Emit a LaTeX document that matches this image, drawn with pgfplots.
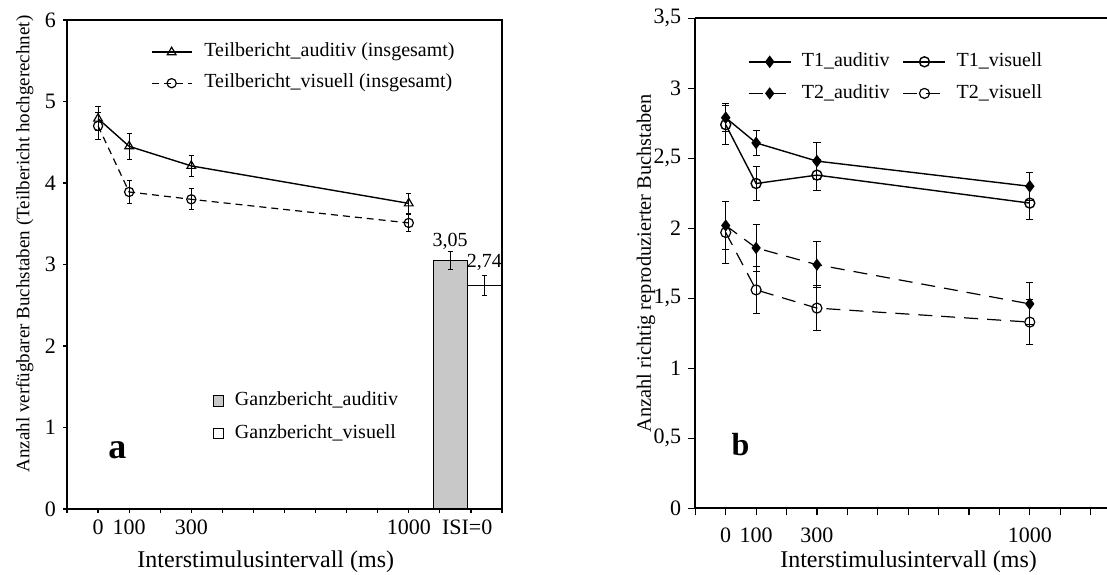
\documentclass[border=0pt]{standalone}
\usepackage{fontspec}
\setmainfont{Liberation Serif}
\usepackage{pgfplots}
\pgfplotsset{compat=1.18}
\definecolor{barGray}{RGB}{200,200,200}
\pgfplotsset{
  errstyle/.style={error bars/.cd, y dir=both, y explicit,
    error bar style={solid, line width=0.5pt},
    error mark options={rotate=90, mark size=#1, solid, line width=0.5pt}},
  mylegend/.style 2 args={legend style={at={#1}, anchor=north west, draw=none, fill=none,
    inner sep=0pt, outer sep=0pt, row sep=#2, font=\fontsize{10}{12}\selectfont,
    nodes={inner sep=0pt, text height=7pt, text depth=2.2pt}}},
}
\begin{document}
\begin{tikzpicture}[x=1pt,y=1pt]
\path[use as bounding box] (0,0) rectangle (553.5,287);
% ---------- left panel: bars (hidden axis) ----------
\begin{axis}[
  at={(33.5pt,32.5pt)}, anchor=south west,
  width=217.5pt, height=244.5pt, scale only axis,
  xmin=-100, xmax=1300, ymin=0, ymax=6,
  hide axis,
  point meta=explicit symbolic,
  mylegend={(axis description cs:0.335,0.240)}{7.1pt},
  legend style={/tikz/every odd column/.append style={column sep=5.3pt}},
  legend cell align=left,
]
\addplot[ybar, bar shift=0pt, bar width=110, fill=barGray, draw=black, line width=0.5pt,
  nodes near coords, every node near coord/.append style={anchor=base, yshift=7pt, font=\fontsize{10}{12}\selectfont, inner sep=0pt},
  legend image code/.code={\draw[fill=barGray,draw=black,line width=0.5pt] (-2.65pt,-2.65pt) rectangle (2.65pt,2.65pt);},
  errstyle=1.3pt]
  table[x=x, y=y, y error=e, meta=lab] {
x y e lab
1133 3.05 0.11 3,05
};
\addlegendentry{Ganzbericht\_auditiv}
\addplot[ybar, bar shift=0pt, bar width=110, fill=white, draw=black, line width=0.5pt,
  nodes near coords, every node near coord/.append style={anchor=base, yshift=9pt, font=\fontsize{10}{12}\selectfont, inner sep=0pt},
  legend image code/.code={\draw[fill=white,draw=black,line width=0.5pt] (-2.65pt,-2.65pt) rectangle (2.65pt,2.65pt);},
  errstyle=1.3pt]
  table[x=x, y=y, y error=e, meta=lab] {
x y e lab
1243 2.74 0.12 2,74
};
\addlegendentry{Ganzbericht\_visuell}
\end{axis}
% ---------- left panel: lines ----------
\begin{axis}[
  at={(33.5pt,32.5pt)}, anchor=south west,
  width=217.5pt, height=244.5pt, scale only axis,
  xmin=-100, xmax=1300, ymin=0, ymax=6,
  axis line style={line width=0.9pt},
  tick pos=left, tick align=outside, major tick length=2pt,
  tick style={line width=0.6pt, black},
  xtick={-100,0,...,1300},
  xticklabels={,0,100,,300,,,,,,,1000,,,},
  extra x ticks={1188}, extra x tick labels={ISI=0},
  extra x tick style={major tick length=0pt, xticklabel style={yshift=-2pt}},
  ytick={0,1,...,6},
  /pgf/number format/assume math mode=true,
  tick label style={font=\fontsize{11}{13}\selectfont},
  xlabel={Interstimulusintervall (ms)},
  ylabel={Anzahl verfügbarer Buchstaben (Teilbericht hochgerechnet)},
  every axis x label/.style={at={(axis description cs:0.457,-0.108)}, anchor=center, font=\fontsize{12}{14}\selectfont},
  every axis y label/.style={at={(axis description cs:-0.097,0.542)}, anchor=center, rotate=90, font=\fontsize{9.5}{11}\selectfont},
  mylegend={(axis description cs:0.193,0.953)}{6.3pt},
  legend style={/tikz/every odd column/.append style={column sep=6pt}},
  legend cell align=left,
  legend image code/.code={\draw[mark repeat=2,mark phase=2,#1] plot coordinates {(0pt,0pt) (10pt,0pt) (20pt,0pt)};},
]
\addplot[black, line width=0.7pt, mark=triangle, mark size=2.5pt, mark options={solid, fill=white, line width=0.6pt}, errstyle=1.3pt]
  table[x=x, y=y, y error=e] {
x y e
0 4.79 0.15
100 4.45 0.16
300 4.21 0.13
1000 3.75 0.12
};
\addlegendentry{Teilbericht\_auditiv (insgesamt)}
\addplot[black, line width=0.6pt, dash pattern=on 3.5pt off 2.5pt, mark=o, mark size=2.3pt, mark options={solid, fill=white, line width=0.6pt}, errstyle=1.3pt]
  table[x=x, y=y, y error=e] {
x y e
0 4.70 0.16
100 3.89 0.14
300 3.80 0.13
1000 3.51 0.10
};
\addlegendentry{Teilbericht\_visuell (insgesamt)}
\node[font=\bfseries\fontsize{18}{20}\selectfont] at (axis description cs:0.116,0.121) {a};
\end{axis}
% ---------- right panel ----------
\begin{axis}[
  at={(347.65pt,32.85pt)}, anchor=south west,
  width=205.85pt, height=245pt, scale only axis,
  xmin=-100, xmax=1254, ymin=0, ymax=3.5,
  axis x line*=bottom, axis y line*=left,
  axis line style={line width=0.9pt},
  tick align=outside, major tick length=3.5pt,
  tick style={line width=0.6pt, black},
  xtick={-100,0,...,1200},
  xticklabels={,0,100,,300,,,,,,,1000,,},
  xticklabel style={yshift=-2.5pt},
  ytick={0,0.5,...,3.5},
  /pgf/number format/assume math mode=true,
  /pgf/number format/use comma,
  tick label style={font=\fontsize{11}{13}\selectfont},
  xlabel={Interstimulusintervall (ms)},
  ylabel={Anzahl richtig reproduzierter Buchstaben},
  every axis x label/.style={at={(axis description cs:0.518,-0.11)}, anchor=center, font=\fontsize{12}{14}\selectfont},
  every axis y label/.style={at={(axis description cs:-0.12,0.5)}, anchor=center, rotate=90, font=\fontsize{10.2}{12}\selectfont},
  legend columns=2,
  mylegend={(axis description cs:0.128,0.930)}{6.6pt},
  legend style={/tikz/every odd column/.append style={column sep=5.2pt},
    /tikz/every even column/.append style={column sep=6.6pt}},
  legend cell align=left,
  legend image code/.code={\draw[mark repeat=2,mark phase=2,#1] plot coordinates {(0pt,0pt) (10.5pt,0pt) (21pt,0pt)};},
  clip=false,
]
\draw[line width=0.9pt] (rel axis cs:0,1) -- (rel axis cs:1,1);
\addplot[black, line width=0.7pt, mark=diamond*, mark size=2.6pt, mark options={solid}, errstyle=1.8pt]
  table[x=x, y=y, y error=e] {
x y e
0 2.79 0.10
100 2.61 0.09
300 2.48 0.13
1000 2.30 0.10
};
\addlegendentry{T1\_auditiv}
\addplot[black, line width=0.7pt, mark=o, mark size=2.5pt, mark options={solid, fill=white}, errstyle=1.8pt]
  table[x=x, y=y, y error=e] {
x y e
0 2.74 0.14
100 2.32 0.12
300 2.38 0.11
1000 2.18 0.12
};
\addlegendentry{T1\_visuell}
\addplot[black, line width=0.6pt, dash pattern=on 7pt off 4.5pt, mark=diamond*, mark size=2.6pt, mark options={solid}, errstyle=1.8pt]
  table[x=x, y=y, y error=e] {
x y e
0 2.02 0.17
100 1.86 0.17
300 1.74 0.165
1000 1.46 0.15
};
\addlegendentry{T2\_auditiv}
\addplot[black, line width=0.6pt, dash pattern=on 7pt off 4.5pt, mark=o, mark size=2.5pt, mark options={solid, fill=white}, errstyle=1.8pt]
  table[x=x, y=y, y error=e] {
x y e
0 1.97 0.22
100 1.56 0.17
300 1.43 0.16
1000 1.33 0.16
};
\addlegendentry{T2\_visuell}
\node[font=\bfseries\fontsize{16}{18}\selectfont] at (axis description cs:0.11,0.131) {b};
\end{axis}
\end{tikzpicture}
\end{document}
